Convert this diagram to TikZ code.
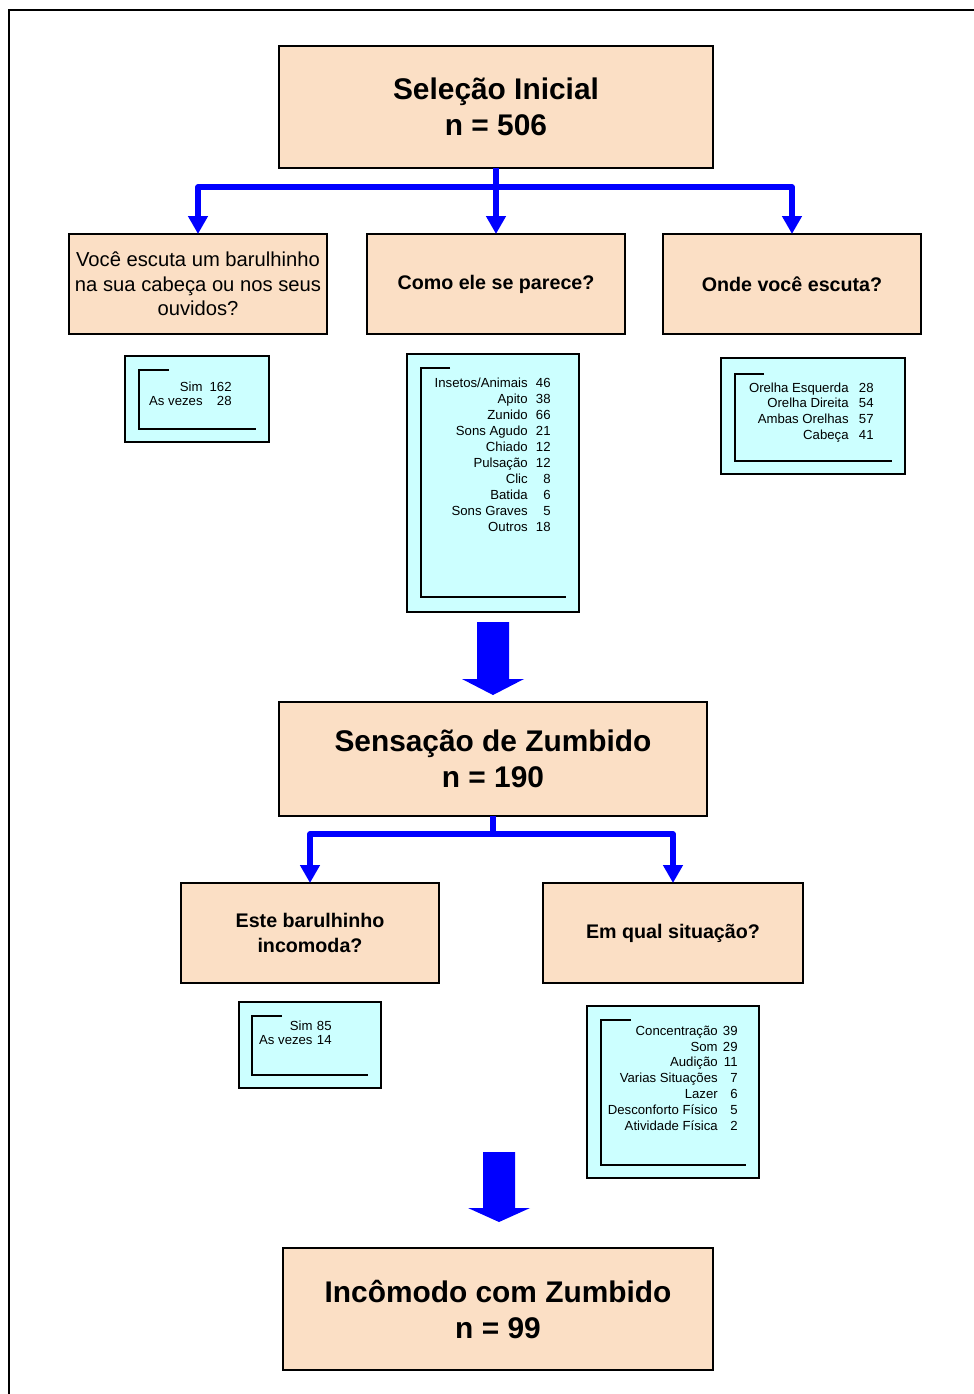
\documentclass[tikz,border=0pt]{standalone}
\usepackage{fontspec}
\setmainfont{Liberation Sans}
\usetikzlibrary{arrows.meta}
\definecolor{peach}{HTML}{FBDFC5}
\definecolor{paleaqua}{HTML}{CCFFFF}
\definecolor{flowblue}{HTML}{0000FF}
\newcommand{\tally}[2]{\begin{tabular}[t]{@{}r@{\hspace{#1}}r@{}}#2\end{tabular}}

\begin{document}
\begin{tikzpicture}[x=0.02cm, y=-0.02cm,
  >={Triangle[length=3.6mm, width=3.8mm]},
  stage/.style={draw, line width=1.1pt, fill=peach, inner sep=0pt, outer sep=0pt,
    align=center, font=\fontsize{17}{20.5}\selectfont\bfseries},
  question/.style={draw, line width=1.1pt, fill=peach, inner sep=0pt, outer sep=0pt,
    minimum width=5.16cm, minimum height=2.0cm, align=center,
    font=\fontsize{11.2}{14.7}\selectfont\bfseries},
  answers/.style={draw, line width=1.1pt, fill=paleaqua, inner sep=0pt},
  counts/.style={inner sep=0pt, anchor=base east, font=\fontsize{7.5}{9.1}\selectfont},
  bracket/.style={line width=0.8pt},
  flow/.style={flowblue, line width=3pt, line join=round, ->},
  bigarrow/.style={fill=flowblue}]

\useasboundingbox (0,0) rectangle (974,1394);

% Frame (open at right and bottom)
\draw[line width=1.5pt] (9,1394) -- (9,10) -- (974,10);

% ============================================================
% Stage 1: initial selection and its three questions
% ============================================================
\node[stage, minimum width=8.68cm, minimum height=2.44cm] (sel) at (496,107)
  {Seleção Inicial\\n = 506};

\node[question, font=\fontsize{11.5}{13.9}\selectfont] (q1) at (198,284)
  {Você escuta um barulhinho\\na sua cabeça ou nos seus\\ouvidos?};
\node[question] (q2) at (496,284) {Como ele se parece?};
\node[question] (q3) at (792,284) {Onde você escuta?};

\draw[flow] (sel.south) -- ++(0,19) -| (q1.north);
\draw[flow] (sel.south) -- (q2.north);
\draw[flow] (sel.south) -- ++(0,19) -| (q3.north);

% Answer boxes
\node[answers, minimum width=2.88cm, minimum height=1.72cm] (a1) at (197,399) {};
\draw[bracket] (169,370) -- (139,370) -- (139,429) -- (256,429);
\node[counts, font=\fontsize{7.5}{8.5}\selectfont] (c1) at (232,391)
  {\tally{4pt}{Sim & 162\\ As vezes & 28}};

\node[answers, minimum width=3.44cm, minimum height=5.16cm] (a2) at (493,483) {};
\draw[bracket] (450,368) -- (421,368) -- (421,597) -- (566,597);
\node[counts, font=\fontsize{7.5}{9.12}\selectfont] (c2) at (551,387)
  {\tally{4.7pt}{Insetos/Animais & 46\\ Apito & 38\\ Zunido & 66\\ Sons Agudo & 21\\
   Chiado & 12\\ Pulsação & 12\\ Clic & 8\\ Batida & 6\\ Sons Graves & 5\\ Outros & 18}};

\node[answers, minimum width=3.68cm, minimum height=2.32cm] (a3) at (813,416) {};
\draw[bracket] (764,374) -- (735,374) -- (735,461) -- (892,461);
\node[counts] (c3) at (874,392)
  {\tally{5.9pt}{Orelha Esquerda & 28\\ Orelha Direita & 54\\ Ambas Orelhas & 57\\ Cabeça & 41}};

% Big arrow down
\fill[bigarrow] (477,622) -- (509,622) -- (509,679) -- (524,679) -- (493,695)
  -- (462,679) -- (477,679) -- cycle;

% ============================================================
% Stage 2: tinnitus sensation
% ============================================================
\node[stage, minimum width=8.56cm, minimum height=2.28cm] (sens) at (493,759)
  {Sensação de Zumbido\\n = 190};

\node[question] (q4) at (310,933) {Este barulhinho\\incomoda?};
\node[question, minimum width=5.2cm] (q5) at (673,933) {Em qual situação?};

\draw[flow] (sens.south) -- ++(0,18) -| (q4.north);
\draw[flow] (sens.south) -- ++(0,18) -| (q5.north);

\node[answers, minimum width=2.84cm, minimum height=1.72cm] (a4) at (310,1045) {};
\draw[bracket] (282,1016) -- (252,1016) -- (252,1075) -- (368,1075);
\node[counts, font=\fontsize{7.5}{8.5}\selectfont] (c4) at (332,1030)
  {\tally{2.5pt}{Sim & 85\\ As vezes & 14}};

\node[answers, minimum width=3.44cm, minimum height=3.44cm] (a5) at (673,1092) {};
\draw[bracket] (631,1020) -- (601,1020) -- (601,1165) -- (746,1165);
\node[counts] (c5) at (738,1035)
  {\tally{3pt}{Concentração & 39\\ Som & 29\\ Audição & 11\\ Varias Situações & 7\\
   Lazer & 6\\ Desconforto Físico & 5\\ Atividade Física & 2}};

% Big arrow down
\fill[bigarrow] (483,1152) -- (515,1152) -- (515,1208) -- (530,1208) -- (499,1222)
  -- (468,1208) -- (483,1208) -- cycle;

% ============================================================
% Stage 3: bothered by tinnitus
% ============================================================
\node[stage, minimum width=8.6cm, minimum height=2.44cm] (inc) at (498,1309)
  {Incômodo com Zumbido\\n = 99};

\end{tikzpicture}
\end{document}
